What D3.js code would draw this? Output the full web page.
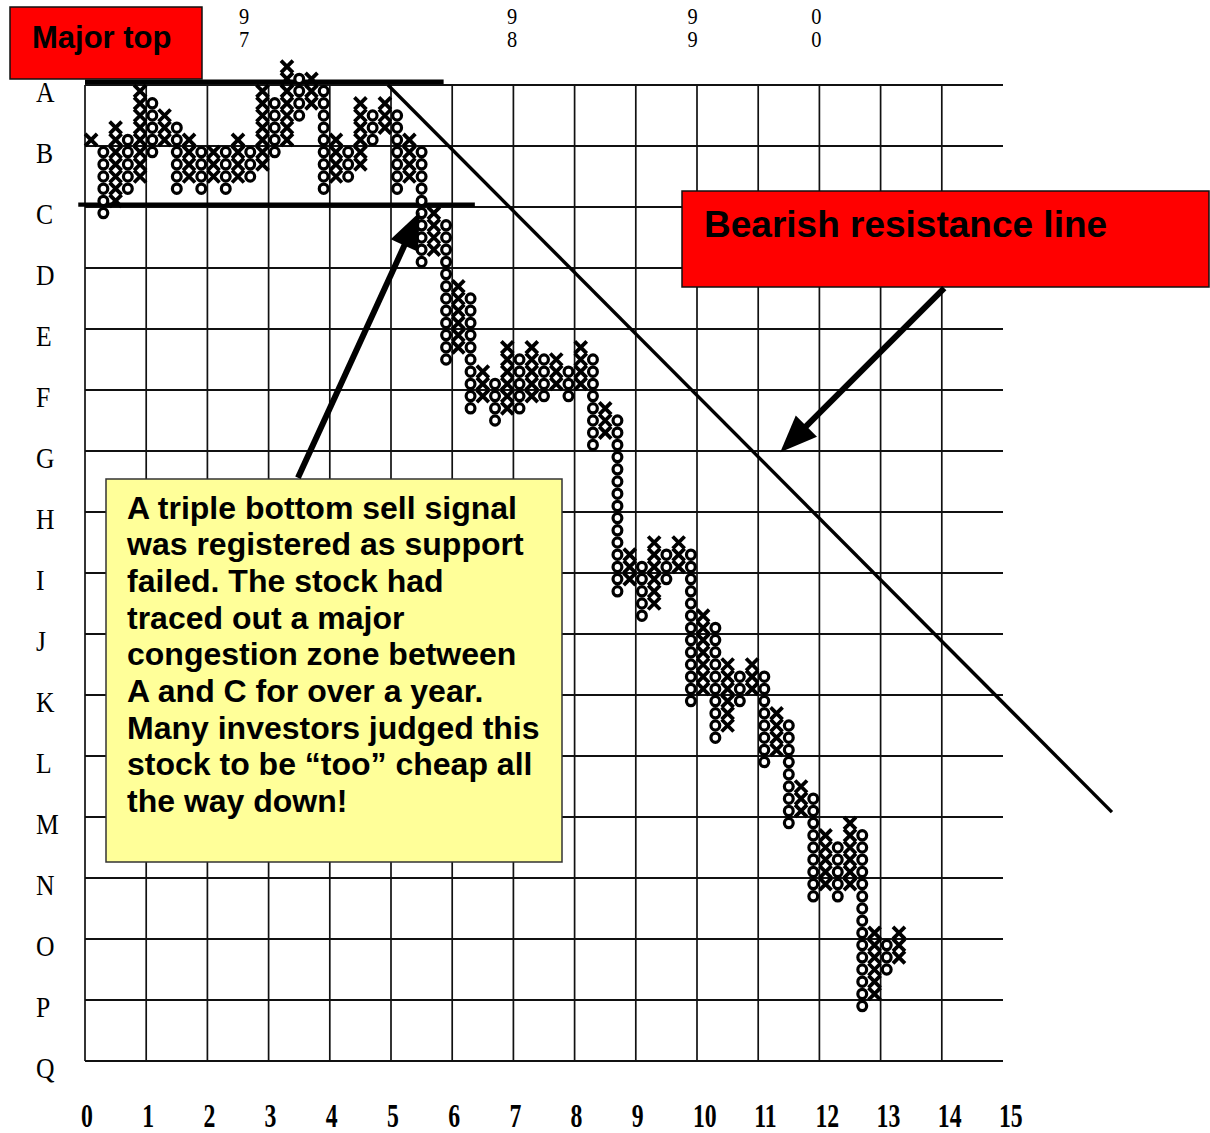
<!DOCTYPE html>
<html>
<head>
<meta charset="utf-8">
<script src="https://cdn.jsdelivr.net/npm/d3@7"></script>
<style>
  body { margin: 0; background: #fff; }
  svg { display: block; }
</style>
</head>
<body>
<script>
// Point & figure columns, left to right. Box levels count up from the Q line,
// five boxes per lettered row.
const colTypes = "XOXOXOXOXOXOXOXOXOXOXOXOXOXOXOXOXOXOXOXOXOXOXOXOXOXOXOXOXOXOXOXOXOX".split("");
const colHigh = [75,74,76,75,79,78,77,76,75,74,74,74,75,74,79,78,81,80,80,79,
                 75,74,78,77,78,77,75,74,69,68,63,62,56,55,58,57,58,57,57,56,
                 58,57,53,52,41,40,42,41,42,41,36,35,32,31,32,31,28,27,22,21,
                 18,17,19,18,10,9,10];
const colLow  = [75,69,70,71,72,74,75,71,72,71,72,71,72,72,73,74,75,77,78,71,
                 72,72,73,75,76,71,72,65,66,57,58,53,54,52,53,53,54,54,55,54,
                 55,50,51,38,39,36,37,39,40,29,30,26,27,29,30,24,25,19,20,13,
                 14,13,14,4,5,7,8];

// Axis labels
const rowLabels = ["A","B","C","D","E","F","G","H","I","J","K","L","M","N","O","P","Q"];
const xTickLabels = ["0","1","2","3","4","5","6","7","8","9","10","11","12","13","14","15"];
const yearLabels = ["97","98","99","00"];
const yearAt = [2.6, 6.98, 9.93, 11.95];

// Support / resistance lines in grid units (x, row below A)
const topResistance = [[0, -0.054], [5.86, -0.054]];
const baseSupport   = [[-0.11, 1.962], [6.37, 1.962]];
const bearishLine   = [[4.95, 0], [16.78, 11.92]];

// Annotation text
const noteLines = [
  "A triple bottom sell signal",
  "was registered as support",
  "failed. The stock had",
  "traced out a major",
  "congestion zone between",
  "A and C for over a year.",
  "Many investors judged this",
  "stock to be \u201ctoo\u201d cheap all",
  "the way down!"
];

const W = 1210, H = 1133;
const svg = d3.select("body").append("svg").attr("width", W).attr("height", H);

const x = d3.scaleLinear().domain([0, 15]).range([85, 1003]);
const yRow = d3.scaleLinear().domain([0, 16]).range([85, 1061]);
const yBox = d3.scaleLinear().domain([0, 80]).range([1061, 85]);
const colX = c => x((c + 0.5) / 5);

// ---- grid ----
const grid = svg.append("g");
grid.selectAll("line.v").data(d3.range(0, 15)).join("line")
  .attr("x1", d => x(d)).attr("x2", d => x(d))
  .attr("y1", yRow(0)).attr("y2", yRow(16))
  .attr("stroke", "#111").attr("stroke-width", 1.7);
grid.selectAll("line.h").data(d3.range(0, 17)).join("line")
  .attr("x1", x(0)).attr("x2", x(15))
  .attr("y1", d => yRow(d)).attr("y2", d => yRow(d))
  .attr("stroke", "#111").attr("stroke-width", 1.9);

// ---- row letters ----
svg.append("g").selectAll("text").data(rowLabels).join("text")
  .attr("transform", (d, i) => `translate(36,${yRow(i) + 17}) scale(0.95,1.08)`)
  .attr("font-family", "Liberation Serif, Times New Roman, serif")
  .attr("font-size", 27).attr("fill", "#000")
  .text(d => d);

// ---- bottom numbers ----
svg.append("g").selectAll("text").data(xTickLabels).join("text")
  .attr("transform", (d, i) => `translate(${x(i) - 4},1127) scale(0.95,1.32)`)
  .attr("font-family", "Liberation Serif, Times New Roman, serif")
  .attr("font-weight", "bold").attr("font-size", 25).attr("fill", "#000")
  .text(d => d);

// ---- year markers (two digits stacked, stretched tall) ----
const yr = svg.append("g").selectAll("text").data(yearLabels).join("text")
  .attr("transform", (d, i) => `translate(${x(yearAt[i])},24) scale(1.2,1.35)`)
  .attr("text-anchor", "middle")
  .attr("font-family", "Liberation Serif, Times New Roman, serif")
  .attr("font-size", 17).attr("fill", "#000");
yr.append("tspan").attr("x", 0).attr("y", 0).text(d => d[0]);
yr.append("tspan").attr("x", 0).attr("dy", 17).text(d => d[1]);

// ---- support / resistance lines ----
const lineGen = d3.line().x(d => x(d[0])).y(d => yRow(d[1]));
svg.append("path").attr("d", lineGen(topResistance))
  .attr("stroke", "#000").attr("stroke-width", 4.6).attr("fill", "none");
svg.append("path").attr("d", lineGen(baseSupport))
  .attr("stroke", "#000").attr("stroke-width", 4.2).attr("fill", "none");
svg.append("path").attr("d", lineGen(bearishLine))
  .attr("stroke", "#000").attr("stroke-width", 3.4).attr("fill", "none");

// ---- X and O boxes ----
const boxes = [];
colTypes.forEach((t, c) => {
  for (let L = colLow[c]; L <= colHigh[c]; L++) boxes.push({ c, L, t });
});
const marks = svg.append("g");
marks.selectAll("ellipse").data(boxes.filter(b => b.t === "O")).join("ellipse")
  .attr("cx", d => colX(d.c)).attr("cy", d => yBox(d.L + 0.5))
  .attr("rx", 4.4).attr("ry", 4.6)
  .attr("fill", "#fff").attr("stroke", "#000").attr("stroke-width", 3.2);
marks.selectAll("path").data(boxes.filter(b => b.t === "X")).join("path")
  .attr("d", d => {
    const cx = colX(d.c), cy = yBox(d.L + 0.5), s = 6;
    return `M${cx - s},${cy - s}L${cx + s},${cy + s}M${cx - s},${cy + s}L${cx + s},${cy - s}`;
  })
  .attr("fill", "none").attr("stroke", "#000").attr("stroke-width", 3.8);

// ---- callout boxes ----
svg.append("rect").attr("x", 10).attr("y", 7).attr("width", 192).attr("height", 72)
  .attr("fill", "#ff0000").attr("stroke", "#111").attr("stroke-width", 1.5);
svg.append("text").attr("x", 32).attr("y", 48)
  .attr("font-family", "Liberation Sans, Arial, sans-serif").attr("font-weight", "bold")
  .attr("font-size", 31).attr("fill", "#000").text("Major top");

svg.append("rect").attr("x", 682).attr("y", 191).attr("width", 527).attr("height", 96)
  .attr("fill", "#ff0000").attr("stroke", "#111").attr("stroke-width", 1.5);
svg.append("text").attr("x", 704).attr("y", 237)
  .attr("font-family", "Liberation Sans, Arial, sans-serif").attr("font-weight", "bold")
  .attr("font-size", 37).attr("fill", "#000").text("Bearish resistance line");

svg.append("rect").attr("x", 106).attr("y", 479).attr("width", 456).attr("height", 383)
  .attr("fill", "#ffff99").attr("stroke", "#333").attr("stroke-width", 1.5);
svg.append("g").selectAll("text").data(noteLines).join("text")
  .attr("x", 127).attr("y", (d, i) => 518.5 + i * 36.7)
  .attr("font-family", "Liberation Sans, Arial, sans-serif").attr("font-weight", "bold")
  .attr("font-size", 32).attr("fill", "#000")
  .text(d => d);

// ---- arrows ----
function arrow(p0, p1, len, hw, sw) {
  const x0 = x(p0[0]), y0 = yRow(p0[1]), x1 = x(p1[0]), y1 = yRow(p1[1]);
  const dx = x1 - x0, dy = y1 - y0, d = Math.hypot(dx, dy), ux = dx / d, uy = dy / d;
  const bx = x1 - ux * len, by = y1 - uy * len;
  svg.append("line").attr("x1", x0).attr("y1", y0)
    .attr("x2", bx + ux * 3).attr("y2", by + uy * 3)
    .attr("stroke", "#000").attr("stroke-width", sw);
  svg.append("polygon")
    .attr("points", [[x1, y1], [bx - uy * hw, by + ux * hw], [bx + uy * hw, by - ux * hw]]
      .map(p => p.join(",")).join(" "))
    .attr("fill", "#000");
}
arrow([3.48, 6.44], [5.47, 2.08], 37, 15, 6);
arrow([14.04, 3.33], [11.36, 6.02], 37, 15, 6);
</script>
</body>
</html>
